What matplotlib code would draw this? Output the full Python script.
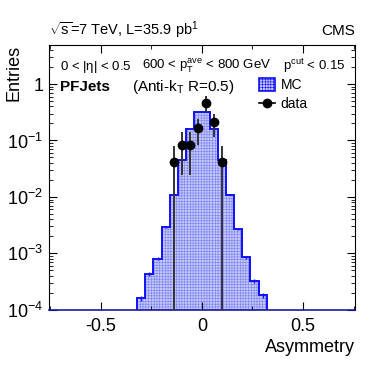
import numpy as np
import matplotlib
matplotlib.use("Agg")
import matplotlib.pyplot as plt
from matplotlib.ticker import FixedLocator, FixedFormatter, LogLocator, MultipleLocator
from matplotlib.patches import Patch
from matplotlib.lines import Line2D

plt.rcParams["font.family"] = ["Liberation Sans", "DejaVu Sans"]
plt.rcParams["mathtext.fontset"] = "custom"
plt.rcParams["mathtext.rm"] = "Liberation Sans"
plt.rcParams["mathtext.it"] = "Liberation Sans"
plt.rcParams["mathtext.bf"] = "Liberation Sans:bold"
plt.rcParams["hatch.color"] = "#7a80f2"
plt.rcParams["hatch.linewidth"] = 0.4

# MC histogram (bin edges and contents)
mc_edges = [-0.32, -0.28, -0.24, -0.20, -0.16, -0.12, -0.08, -0.04, 0.0,
            0.04, 0.08, 0.12, 0.16, 0.20, 0.24, 0.28, 0.32]
mc_values = [1.6e-4, 4.3e-4, 8.1e-4, 2.9e-3, 0.011, 0.046, 0.159, 0.32,
             0.32, 0.159, 0.046, 0.011, 2.7e-3, 8.5e-4, 3.2e-4, 1.8e-4]
mc_relerr = [0.12, 0.08, 0.06, 0.04, 0.02, 0.01, 0.01, 0.01,
             0.01, 0.01, 0.01, 0.02, 0.04, 0.06, 0.08, 0.11]

# data points
data_x = [-0.14, -0.10, -0.06, -0.02, 0.02, 0.06, 0.10]
data_y = [0.041, 0.083, 0.083, 0.166, 0.46, 0.21, 0.041]
data_lo = [1e-6, 0.024, 0.024, 0.083, 0.32, 0.113, 1e-6]
data_hi = [0.081, 0.143, 0.14, 0.24, 0.61, 0.29, 0.081]

ytick_vals = [1e-4, 1e-3, 1e-2, 1e-1, 1]
ytick_labels = ["10$^{-4}$", "10$^{-3}$", "10$^{-2}$", "10$^{-1}$", "1"]

fig = plt.figure(figsize=(3.74, 3.65), dpi=100)
ax = fig.add_axes([0.131, 0.151, 0.818, 0.727])

mc_centers = [(mc_edges[i] + mc_edges[i + 1]) / 2 for i in range(len(mc_values))]
ax.stairs(mc_values, mc_edges, baseline=1e-6, fill=True, facecolor="#c4c7fa",
          edgecolor="#7a80f2", hatch="++++++", linewidth=0, zorder=1)
ax.stairs(mc_values, mc_edges, baseline=1e-6, color="#1010ff", linewidth=1.4, zorder=2)
mc_err = [v * e for v, e in zip(mc_values, mc_relerr)]
ax.errorbar(mc_centers, mc_values, yerr=mc_err, fmt="none", ecolor="#1010ff",
            elinewidth=1.0, zorder=2)

yerr = [[y - lo for y, lo in zip(data_y, data_lo)],
        [hi - y for y, hi in zip(data_y, data_hi)]]
ax.errorbar(data_x, data_y, yerr=yerr, fmt="o", color="black", ecolor="#333333",
            elinewidth=1.4, markersize=6, zorder=3)

ax.set_yscale("log")
ax.set_xlim(-0.757, 0.757)
ax.set_ylim(1e-4, 5)

ax.xaxis.set_major_locator(FixedLocator([-0.5, 0, 0.5]))
ax.xaxis.set_major_formatter(FixedFormatter(["-0.5", "0", "0.5"]))
ax.xaxis.set_minor_locator(MultipleLocator(0.25))
ax.yaxis.set_major_locator(FixedLocator(ytick_vals))
ax.yaxis.set_major_formatter(FixedFormatter(ytick_labels))
ax.yaxis.set_minor_locator(LogLocator(base=10, subs=np.arange(2, 10)))
ax.tick_params(which="both", direction="in", top=True, right=True, labelsize=13)
ax.tick_params(which="major", length=6, width=0.8)
ax.tick_params(which="minor", length=3, width=0.6)
ax.tick_params(axis="x", pad=6)
ax.tick_params(axis="y", pad=4)
ax.spines["bottom"].set_color("#1a1aa0")
ax.spines["bottom"].set_linewidth(1.2)

ax.set_ylabel("Entries", fontsize=13, loc="top")
ax.yaxis.set_label_coords(-0.088, 1.0)
ax.set_xlabel("Asymmetry", fontsize=13, loc="right", labelpad=3)

ax.text(0.0, 1.035, r"$\sqrt{s}$=7 TeV, L=35.9 pb$^{1}$", transform=ax.transAxes,
        fontsize=10.5, ha="left", va="baseline")
ax.text(1.0, 1.035, "CMS", transform=ax.transAxes, fontsize=11, ha="right", va="baseline")

ax.text(0.036, 0.905, r"0 < |$\eta$| < 0.5", transform=ax.transAxes, fontsize=9.5, va="baseline")
ax.text(0.303, 0.905, r"600 < p$_{T}^{ave}$ < 800 GeV", transform=ax.transAxes, fontsize=9.5, va="baseline")
ax.text(0.765, 0.905, r"p$^{cut}$ < 0.15", transform=ax.transAxes, fontsize=9.5, va="baseline")
ax.text(0.036, 0.825, "PFJets", transform=ax.transAxes, fontsize=11, fontweight="bold", va="baseline")
ax.text(0.27, 0.825, r"(Anti-k$_{T}$ R=0.5)", transform=ax.transAxes, fontsize=11, va="baseline")

# legend
handles = [Patch(facecolor="#c4c7fa", edgecolor="#1010ff", hatch="++++++", linewidth=1.2),
           Line2D([0], [0], color="black", marker="o", markersize=6, linewidth=1.2)]
ax.legend(handles, ["MC", "data"], loc="upper left", bbox_to_anchor=(0.685, 0.875),
          frameon=False, fontsize=10, handlelength=1.2, handleheight=1.1,
          handletextpad=0.4, labelspacing=0.35, borderaxespad=0, borderpad=0)

fig.savefig("out.png", dpi=100)
